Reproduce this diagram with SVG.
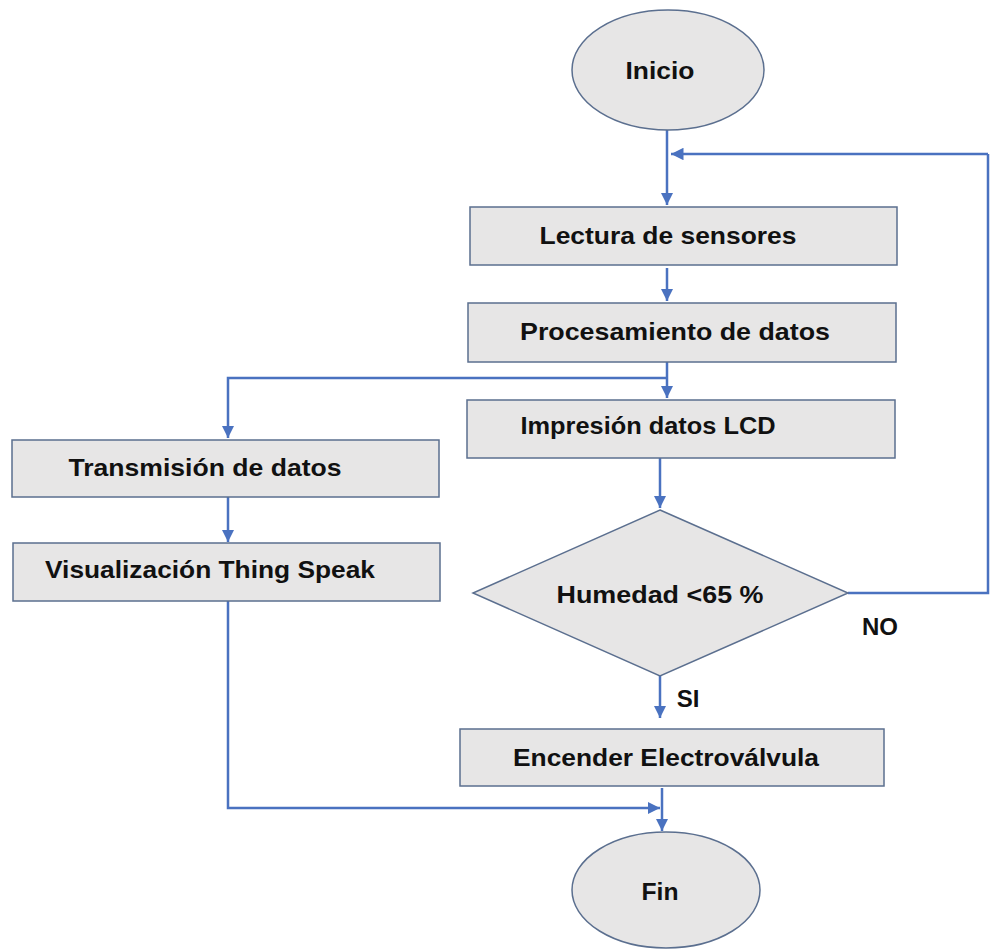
<svg xmlns="http://www.w3.org/2000/svg" width="990" height="950" viewBox="0 0 990 950">
<style>
.n{fill:#e7e6e6;stroke:#5b6f8f;stroke-width:1.5}
.t{font-family:"Liberation Sans",Arial,sans-serif;font-weight:bold;font-size:24px;fill:#111;text-anchor:middle}
.c{fill:none;stroke:#4a72c0;stroke-width:2.5}
</style>
<defs>
<marker id="a" viewBox="0 0 10 10" refX="10" refY="5" markerWidth="5" markerHeight="5" orient="auto" markerUnits="strokeWidth">
<path d="M0,0 L10,5 L0,10 z" fill="#4a72c0"/>
</marker>
</defs>
<rect width="990" height="950" fill="#fff"/>
<g id="connectors">
<path class="c" d="M667,130 V205" marker-end="url(#a)"/>
<path class="c" d="M988,154 H671" marker-end="url(#a)"/>
<path class="c" d="M667,268 V301" marker-end="url(#a)"/>
<path class="c" d="M667,361 V398" marker-end="url(#a)"/>
<path class="c" d="M667,378 H228 V438" marker-end="url(#a)"/>
<path class="c" d="M228,497 V542" marker-end="url(#a)"/>
<path class="c" d="M660,458 V508" marker-end="url(#a)"/>
<path class="c" d="M848,593 H988 V154"/>
<path class="c" d="M660,676 V718" marker-end="url(#a)"/>
<path class="c" d="M662,788 V831" marker-end="url(#a)"/>
<path class="c" d="M228,601 V808 H660" marker-end="url(#a)"/>
</g>
<g id="inicio"><ellipse class="n" cx="668" cy="70" rx="96" ry="60"/><text class="t" x="660" y="79" textLength="69" lengthAdjust="spacingAndGlyphs">Inicio</text></g>
<g id="lectura"><rect class="n" x="470" y="207" width="427" height="58"/><text class="t" x="668" y="244" textLength="257" lengthAdjust="spacingAndGlyphs">Lectura de sensores</text></g>
<g id="procesamiento"><rect class="n" x="468" y="303" width="428" height="59"/><text class="t" x="675" y="340" textLength="310" lengthAdjust="spacingAndGlyphs">Procesamiento de datos</text></g>
<g id="impresion"><rect class="n" x="467" y="400" width="428" height="58"/><text class="t" x="648" y="434" textLength="255" lengthAdjust="spacingAndGlyphs">Impresión datos LCD</text></g>
<g id="transmision"><rect class="n" x="12" y="440" width="427" height="57"/><text class="t" x="205" y="476" textLength="273" lengthAdjust="spacingAndGlyphs">Transmisión de datos</text></g>
<g id="visualizacion"><rect class="n" x="13" y="543" width="427" height="58"/><text class="t" x="210" y="578" textLength="330" lengthAdjust="spacingAndGlyphs">Visualización Thing Speak</text></g>
<g id="decision"><polygon class="n" points="660,510 848,593 660,676 473,593"/><text class="t" x="660" y="603" textLength="207" lengthAdjust="spacingAndGlyphs">Humedad &lt;65 %</text></g>
<g id="encender"><rect class="n" x="460" y="729" width="424" height="57"/><text class="t" x="666" y="766" textLength="306" lengthAdjust="spacingAndGlyphs">Encender Electroválvula</text></g>
<g id="fin"><ellipse class="n" cx="666" cy="890" rx="94" ry="58"/><text class="t" x="660" y="900" textLength="37" lengthAdjust="spacingAndGlyphs">Fin</text></g>
<g id="labels"><text class="t" x="880" y="635">NO</text><text class="t" x="688" y="707">SI</text></g>
</svg>
